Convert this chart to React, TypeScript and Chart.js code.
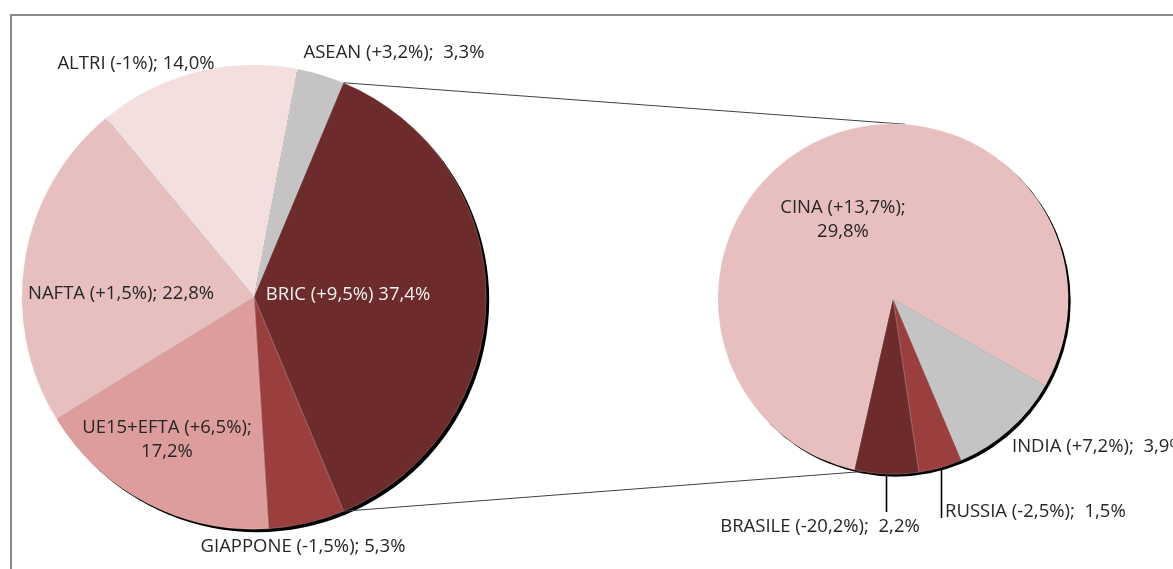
import React, { useEffect, useRef } from "react";
import { Chart, registerables } from "chart.js";

Chart.register(...registerables);

const W = 1173;
const H = 569;

// ---- data ----
const mainCategories = ["ASEAN", "BRIC", "GIAPPONE", "UE15+EFTA", "NAFTA", "ALTRI"];
const mainShares = [3.3, 37.4, 5.3, 17.2, 22.8, 14.0];
const mainChanges = ["+3,2%", "+9,5%", "-1,5%", "+6,5%", "+1,5%", "-1%"];

const bricCategories = ["CINA", "INDIA", "RUSSIA", "BRASILE"];
const bricShares = [29.8, 3.9, 1.5, 2.2];
const bricChanges = ["+13,7%", "+7,2%", "-2,5%", "-20,2%"];

// ---- style ----
const mainColors = ["#c4c4c4", "#6d2c2b", "#9b3f3e", "#dc9d9c", "#e8bfbf", "#f3dfde"];
const bricColors = ["#e8bfbf", "#c4c4c4", "#9b3f3e", "#6d2c2b"];

const FONT = "18.5px 'Open Sans', Lato, sans-serif";
const TEXT = "#262626";

type LabelStyle = {
  x: number;
  y: number;
  align?: CanvasTextAlign;
  color?: string;
  sep?: string;
  wrap?: boolean;
  leaderEnd?: number;
};

const mainLabelStyle: LabelStyle[] = [
  { x: 394, y: 53, sep: ";  " },
  { x: 348, y: 295, color: "#f2f2f2", sep: " " },
  { x: 303, y: 547 },
  { x: 167, y: 428, wrap: true },
  { x: 121, y: 294 },
  { x: 136, y: 64 },
];

const bricLabelStyle: LabelStyle[] = [
  { x: 843, y: 208, wrap: true },
  { x: 1012, y: 447, align: "left", sep: ";  " },
  { x: 945, y: 512, align: "left", leaderEnd: 518, sep: ";  " },
  { x: 820, y: 527, leaderEnd: 512, sep: ";  " },
];

const fmt = (v: number) => v.toFixed(1).replace(".", ",") + "%";

function shadowPlugin(dx: number, dy: number) {
  return {
    id: "shadow",
    beforeDatasetsDraw(chart: any) {
      const arc = chart.getDatasetMeta(0).data[0];
      if (!arc) return;
      const { x, y, outerRadius } = arc;
      const ctx = chart.ctx;
      ctx.save();
      ctx.fillStyle = "#000";
      ctx.beginPath();
      ctx.arc(x + dx, y + dy, outerRadius, 0, Math.PI * 2);
      ctx.fill();
      ctx.restore();
    },
  };
}

function drawLabels(
  ctx: CanvasRenderingContext2D,
  cats: string[],
  changes: string[],
  values: number[],
  styles: LabelStyle[]
) {
  ctx.save();
  ctx.font = FONT;
  ctx.textBaseline = "middle";
  cats.forEach((c, i) => {
    const s = styles[i];
    ctx.fillStyle = s.color || TEXT;
    ctx.textAlign = s.align || "center";
    const sep = s.sep ?? "; ";
    if (s.wrap) {
      ctx.fillText(`${c} (${changes[i]});`, s.x, s.y);
      ctx.fillText(fmt(values[i]), s.x, s.y + 24);
    } else {
      ctx.fillText(`${c} (${changes[i]})${sep}${fmt(values[i])}`, s.x, s.y);
    }
  });
  ctx.restore();
}

export default function App() {
  const leftRef = useRef<HTMLCanvasElement>(null);
  const rightRef = useRef<HTMLCanvasElement>(null);

  useEffect(() => {
    const left = new Chart(leftRef.current as HTMLCanvasElement, {
      type: "pie",
      data: {
        labels: mainCategories,
        datasets: [
          {
            data: mainShares,
            backgroundColor: mainColors,
            borderColor: "rgba(255,255,255,0.35)",
            borderWidth: 0.6,
          },
        ],
      },
      options: {
        responsive: false,
        animation: false,
        devicePixelRatio: 1,
        events: [],
        rotation: 10.8,
        layout: { padding: { left: 21.5, right: W - 486.5, top: 64.5, bottom: H - 529.5 } },
        plugins: { legend: { display: false }, tooltip: { enabled: false } },
      },
      plugins: [shadowPlugin(3, 3)],
    });

    const overlay = {
      id: "overlay",
      beforeDatasetsDraw(chart: any) {
        const ctx: CanvasRenderingContext2D = chart.ctx;
        const bric = left.getDatasetMeta(0).data[1] as any;
        const rArc = chart.getDatasetMeta(0).data[0] as any;
        if (!bric || !rArc) return;
        const p1 = {
          x: bric.x + bric.outerRadius * Math.cos(bric.startAngle),
          y: bric.y + bric.outerRadius * Math.sin(bric.startAngle),
        };
        const p2 = {
          x: bric.x + bric.outerRadius * Math.cos(bric.endAngle),
          y: bric.y + bric.outerRadius * Math.sin(bric.endAngle),
        };
        const a1 = ((4 - 90) * Math.PI) / 180;
        const a2 = ((190 - 90) * Math.PI) / 180;
        const q1 = { x: rArc.x + rArc.outerRadius * Math.cos(a1), y: rArc.y + rArc.outerRadius * Math.sin(a1) };
        const q2 = { x: rArc.x + rArc.outerRadius * Math.cos(a2), y: rArc.y + rArc.outerRadius * Math.sin(a2) };
        ctx.save();
        ctx.strokeStyle = "#404040";
        ctx.lineWidth = 1;
        ctx.beginPath();
        ctx.moveTo(p1.x, p1.y);
        ctx.lineTo(q1.x, q1.y);
        ctx.moveTo(p2.x, p2.y);
        ctx.lineTo(q2.x, q2.y);
        ctx.stroke();
        ctx.restore();
      },
      afterDatasetsDraw(chart: any) {
        const ctx: CanvasRenderingContext2D = chart.ctx;
        const arcs = chart.getDatasetMeta(0).data as any[];
        ctx.save();
        ctx.strokeStyle = "#000";
        ctx.lineWidth = 1.6;
        arcs.forEach((arc, i) => {
          const s = bricLabelStyle[i];
          if (s.leaderEnd === undefined) return;
          const mid = (arc.startAngle + arc.endAngle) / 2;
          const r = arc.outerRadius + 2;
          const x = Math.round(arc.x + r * Math.cos(mid)) + 0.5;
          const y = arc.y + r * Math.sin(mid);
          ctx.beginPath();
          ctx.moveTo(x, y);
          ctx.lineTo(x, s.leaderEnd);
          ctx.stroke();
        });
        ctx.restore();
        drawLabels(ctx, mainCategories, mainChanges, mainShares, mainLabelStyle);
        drawLabels(ctx, bricCategories, bricChanges, bricShares, bricLabelStyle);
      },
    };

    const right = new Chart(rightRef.current as HTMLCanvasElement, {
      type: "pie",
      data: {
        labels: bricCategories,
        datasets: [
          {
            data: bricShares,
            backgroundColor: bricColors,
            borderColor: "rgba(255,255,255,0.35)",
            borderWidth: 0.6,
          },
        ],
      },
      options: {
        responsive: false,
        animation: false,
        devicePixelRatio: 1,
        events: [],
        rotation: 192.7,
        layout: { padding: { left: 717.5, right: W - 1068.5, top: 123.5, bottom: H - 474.5 } },
        plugins: { legend: { display: false }, tooltip: { enabled: false } },
      },
      plugins: [shadowPlugin(2.5, 2.5), overlay],
    });

    return () => {
      right.destroy();
      left.destroy();
    };
  }, []);

  return (
    <div style={{ position: "fixed", left: 0, top: 0, width: W, height: H, background: "#fff", overflow: "hidden" }}>
      <div
        style={{
          position: "absolute",
          left: 10,
          top: 14,
          width: W,
          height: H,
          borderTop: "2px solid #8a8a8a",
          borderLeft: "2px solid #8a8a8a",
        }}
      />
      <canvas ref={leftRef} width={W} height={H} style={{ position: "absolute", left: 0, top: 0 }} />
      <canvas ref={rightRef} width={W} height={H} style={{ position: "absolute", left: 0, top: 0 }} />
    </div>
  );
}
